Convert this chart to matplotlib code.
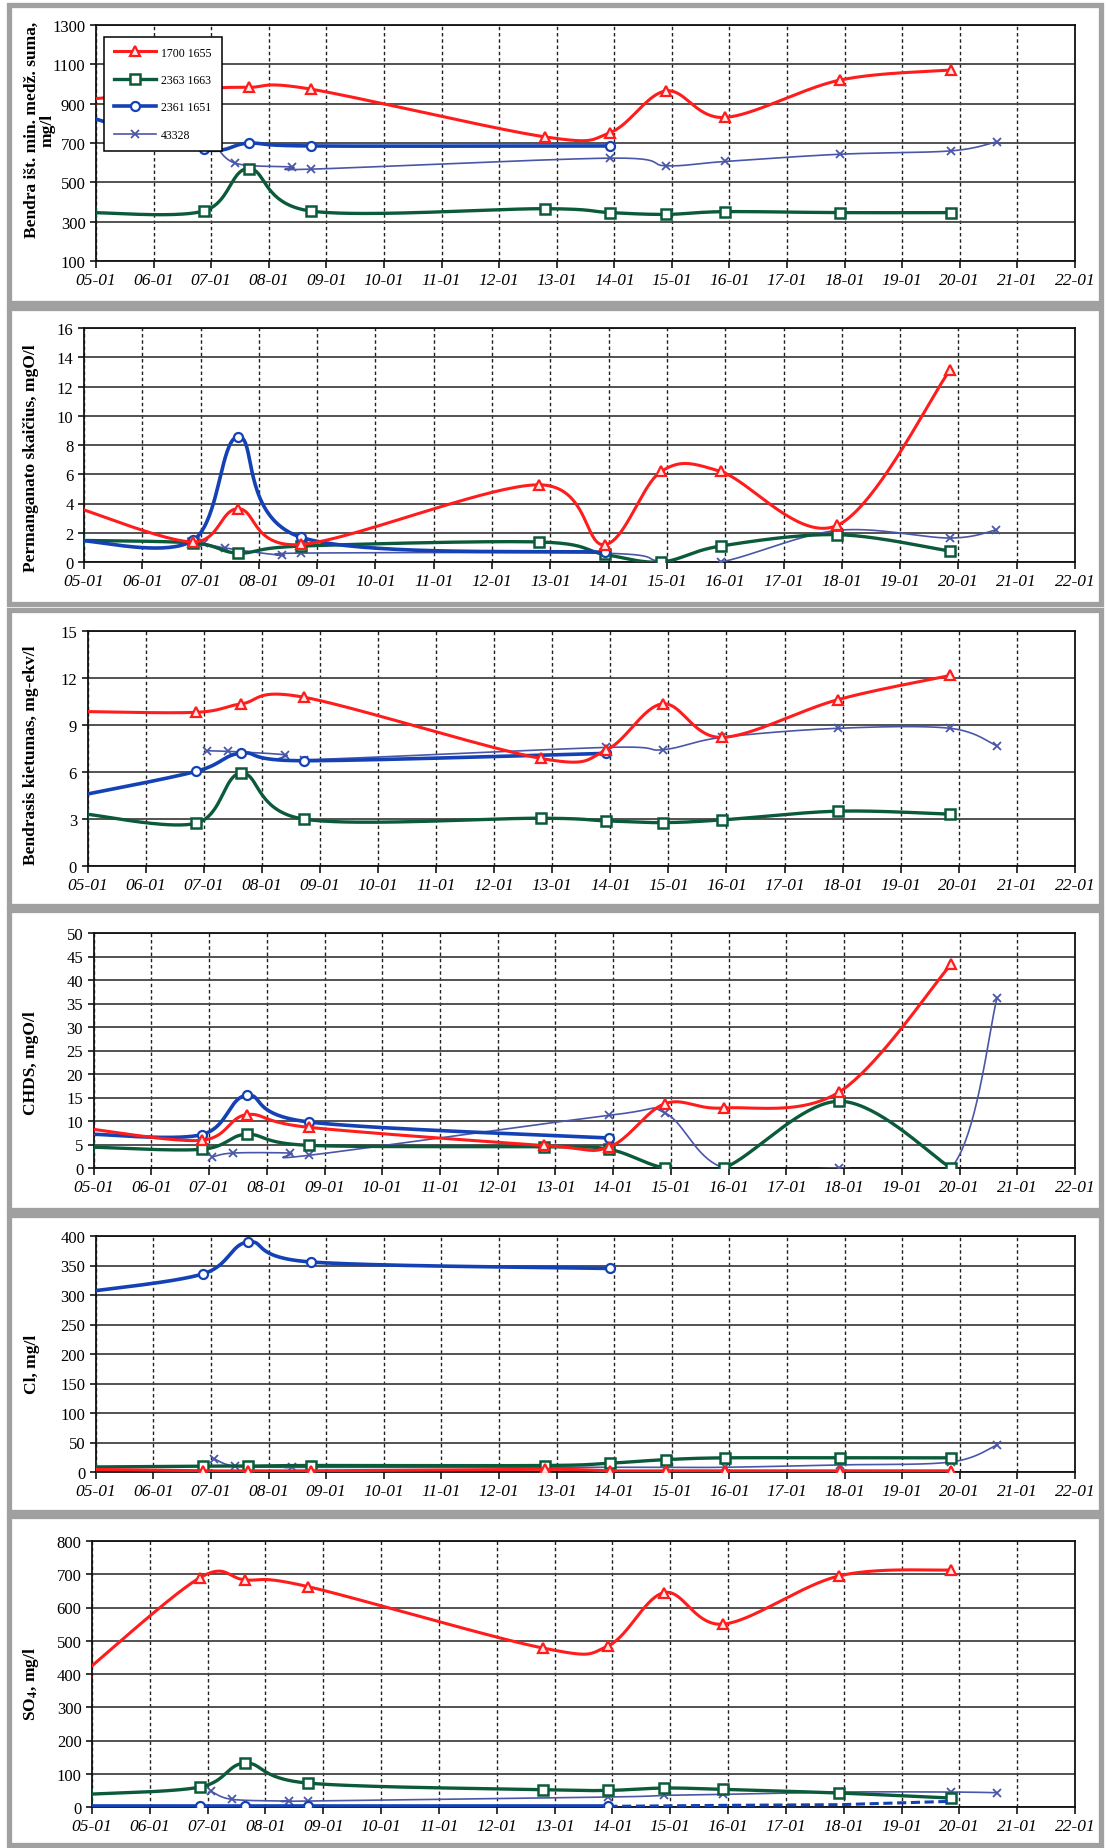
import numpy as np
import matplotlib
matplotlib.use("Agg")
import matplotlib.pyplot as plt
from matplotlib.patches import Rectangle

# ---------------- data ----------------
series_names = ["1700 1655", "2363 1663", "2361 1651", "43328"]
x_tick_years = list(range(2005, 2023))
x_tick_labels = ["%02d-01" % (y % 100) for y in x_tick_years]

dates_main = [2004.9, 2006.87, 2007.65, 2008.73, 2012.8, 2013.93, 2014.9, 2015.92, 2017.92, 2019.85]
dates_2361 = [2004.9, 2006.87, 2007.65, 2008.73, 2013.93]
dates_43328 = [2007.05, 2007.42, 2008.4, 2008.73, 2013.93, 2014.9, 2015.92, 2017.92, 2019.85, 2020.65]
dates_2361_so4_dash = [2013.93, 2015.92, 2017.92, 2019.85]

# Panel 1: Bendra išt. min. medž. suma, mg/l
p1_1700 = [923, 975, 983, 974, 731, 753, 965, 830, 1020, 1071]
p1_2363 = [346, 354, 570, 354, 366, 346, 337, 351, 346, 346]
p1_2361 = [830, 668, 699, 685, 685]
p1_43328 = [700, 597, 578, 567, 623, 584, 606, 643, 660, 707]

# Panel 2: Permanganato skaičius, mgO/l
p2_1700 = [3.69, 1.37, 3.64, 1.2, 5.28, 1.18, 6.19, 6.19, 2.5, 13.1]
p2_2363 = [1.48, 1.3, 0.61, 1.09, 1.37, 0.52, 0.0, 1.09, 1.87, 0.75]
p2_2361 = [1.48, 1.48, 8.58, 1.68, 0.66]
p2_43328 = [1.3, 0.96, 0.46, 0.61, 0.6, 0.05, 0.0, 2.16, 1.64, 2.2]

# Panel 3: Bendrasis kietumas, mg-ekv/l
p3_1700 = [9.86, 9.81, 10.35, 10.77, 6.87, 7.4, 10.35, 8.21, 10.62, 12.16]
p3_2363 = [3.35, 2.73, 5.93, 2.99, 3.05, 2.88, 2.77, 2.94, 3.5, 3.31]
p3_2361 = [4.52, 6.04, 7.21, 6.72, 7.19]
p3_43328 = [7.36, 7.32, 7.1, 6.78, 7.57, 7.42, 8.21, 8.79, 8.79, 7.68]

# Panel 4: CHDS, mgO/l
p4_1700 = [8.37, 5.89, 11.35, 8.65, 4.8, 4.47, 13.7, 12.77, 16.2, 43.3]
p4_2363 = [4.47, 3.97, 7.16, 4.82, 4.5, 3.97, 0.0, 0.0, 14.2, 0.0]
p4_2361 = [7.23, 7.09, 15.46, 9.79, 6.38]
p4_43328 = [2.34, 3.19, 3.19, 2.7, 11.2, 11.7, 0.0, 0.0, 0.0, 36.2]

# Panel 5: Cl, mg/l
p5_1700 = [4.5, 2, 2, 2, 4.5, 2, 2, 2, 2, 2]
p5_2363 = [8.5, 10, 10, 11, 11, 15, 21, 24, 24, 24]
p5_2361 = [306, 336, 390, 356, 345]
p5_43328 = [22.6, 10, 8, 8, 8, 8, 8, 12, 17, 46]

# Panel 6: SO4, mg/l
p6_1700 = [410, 690, 683, 663, 478, 485, 645, 550, 695, 713]
p6_2363 = [38, 60, 132, 72, 52, 50, 57, 53, 42, 27]
p6_2361 = [2, 2, 2, 2, 2]
p6_2361_dash = [2, 5, 7, 17]
p6_43328 = [48, 23, 18, 18, 30, 35, 38, 45, 45, 43]

# ---------------- styling ----------------
W, H = 1107, 1849
plt.rcParams["font.family"] = ["Liberation Serif", "DejaVu Serif"]
plt.rcParams["mathtext.fontset"] = "stix"

fig = plt.figure(figsize=(W / 100, H / 100), dpi=100)
fig.patch.set_facecolor("white")

C_RED = "#ff1c1c"
C_GREEN = "#0b5a3a"
C_BLUE = "#1442b4"
C_PURPLE = "#4a56a8"

styles = {
    "1700": dict(color=C_RED, lw=2.2, marker="^", ms=7.5, mfc="#ffe8e8", mec=C_RED, mew=1.6, zorder=6),
    "2363": dict(color=C_GREEN, lw=2.4, marker="s", ms=7.5, mfc="white", mec=C_GREEN, mew=1.8, zorder=4),
    "2361": dict(color=C_BLUE, lw=2.6, marker="o", ms=6.5, mfc="white", mec=C_BLUE, mew=1.6, zorder=5),
    "43328": dict(color=C_PURPLE, lw=1.2, marker="x", ms=6, mfc=C_PURPLE, mec=C_PURPLE, mew=1.3, zorder=3),
}


def smooth(xs, ys, n=40):
    P = np.column_stack([xs, ys]).astype(float)
    m = len(P)
    if m < 3:
        return P[:, 0], P[:, 1]
    out = [P[0]]
    t = np.linspace(0, 1, n)[1:, None]
    for i in range(m - 1):
        p0 = P[i - 1] if i > 0 else P[i]
        p1 = P[i]
        p2 = P[i + 1]
        p3 = P[i + 2] if i + 2 < m else P[i + 1]
        c1 = p1 + (p2 - p0) / 6.0
        c2 = p2 - (p3 - p1) / 6.0
        seg = ((1 - t) ** 3) * p1 + 3 * ((1 - t) ** 2) * t * c1 + 3 * (1 - t) * t ** 2 * c2 + t ** 3 * p2
        out.extend(seg)
    out = np.array(out)
    return out[:, 0], out[:, 1]


def draw_series(ax, xs, ys, key):
    st = styles[key]
    sx, sy = smooth(xs, ys)
    ax.plot(sx, sy, color=st["color"], lw=st["lw"], zorder=st["zorder"],
            solid_capstyle="round")
    ax.plot(xs, ys, ls="none", marker=st["marker"], ms=st["ms"], mfc=st["mfc"],
            mec=st["mec"], mew=st["mew"], zorder=st["zorder"] + 0.5)


def px_rect(left, right, top, bottom):
    return [left / W, 1 - bottom / H, (right - left) / W, (bottom - top) / H]


# panel frames (gray scan borders)
boxes = [(9, 6, 1101, 304), (9, 309, 1101, 605), (9, 611, 1101, 907),
         (9, 911, 1101, 1211), (9, 1216, 1101, 1513), (9, 1517, 1101, 1846)]
for (l, t, r, b) in boxes:
    fig.patches.append(Rectangle((l / W, 1 - b / H), (r - l) / W, (b - t) / H,
                                 transform=fig.transFigure, fill=False,
                                 edgecolor="#a0a0a0", lw=3.8, zorder=0))

panels = [
    dict(rect=(96, 1075, 26, 262), ylim=(100, 1300), yticks=np.arange(100, 1301, 200),
         ylabel="Bendra išt. min. medž. suma,\nmg/l", lab=(40, 130),
         data=(p1_1700, p1_2363, p1_2361, p1_43328)),
    dict(rect=(84, 1075, 329, 563), ylim=(0, 16), yticks=np.arange(0, 17, 2),
         ylabel="Permanganato skaičius, mgO/l", lab=(31, 458),
         data=(p2_1700, p2_2363, p2_2361, p2_43328)),
    dict(rect=(87.5, 1075, 632, 867), ylim=(0, 15), yticks=np.arange(0, 16, 3),
         ylabel="Bendrasis kietumas, mg-ekv/l", lab=(31, 755),
         data=(p3_1700, p3_2363, p3_2361, p3_43328)),
    dict(rect=(93.6, 1075, 934, 1169), ylim=(0, 50), yticks=np.arange(0, 51, 5),
         ylabel="CHDS, mgO/l", lab=(31, 1063),
         data=(p4_1700, p4_2363, p4_2361, p4_43328)),
    dict(rect=(95.7, 1075, 1237, 1473), ylim=(0, 400), yticks=np.arange(0, 401, 50),
         ylabel="Cl, mg/l", lab=(32, 1364),
         data=(p5_1700, p5_2363, p5_2361, p5_43328)),
    dict(rect=(92, 1075, 1542, 1808), ylim=(0, 800), yticks=np.arange(0, 801, 100),
         ylabel="SO$_\\mathbf{4}$, mg/l", lab=(31, 1684),
         data=(p6_1700, p6_2363, p6_2361, p6_43328)),
]

for i, p in enumerate(panels):
    l, r, t, b = p["rect"]
    ax = fig.add_axes(px_rect(l, r, t, b))
    ax.set_facecolor("white")
    ax.set_xlim(2005, 2022)
    ax.set_ylim(*p["ylim"])
    ax.set_xticks(x_tick_years)
    ax.set_xticklabels(x_tick_labels, fontstyle="italic", fontsize=12.5)
    ax.set_yticks(p["yticks"])
    ax.set_yticklabels([str(int(v)) for v in p["yticks"]], fontsize=12)
    ax.tick_params(axis="x", direction="out", length=5, width=1.1, pad=3, color="black")
    ax.tick_params(axis="y", direction="out", length=4, width=1.1, pad=3.5, color="black")
    for s in ax.spines.values():
        s.set_linewidth(1.3)
        s.set_color("#111111")
    ax.grid(axis="y", color="#444444", lw=1.3, ls="-")
    ax.grid(axis="x", color="#202020", lw=1.0, ls=(0, (2.5, 2.0)))
    ax.set_axisbelow(True)

    d1700, d2363, d2361, d43328 = p["data"]
    draw_series(ax, dates_43328, d43328, "43328")
    draw_series(ax, dates_main, d2363, "2363")
    draw_series(ax, dates_2361, d2361, "2361")
    draw_series(ax, dates_main, d1700, "1700")
    if i == 5:
        ax.plot(dates_2361_so4_dash, p6_2361_dash, color=C_BLUE, lw=2.2,
                ls=(0, (3, 1.5)), zorder=5)

    if i == 0:
        for key, name in zip(["1700", "2363", "2361", "43328"], series_names):
            st = styles[key]
            ax.plot([], [], color=st["color"], lw=st["lw"], marker=st["marker"], ms=st["ms"],
                    mfc=st["mfc"], mec=st["mec"], mew=st["mew"], label=name)
        leg = ax.legend(loc="upper left", bbox_to_anchor=(0.008, 0.951), fontsize=8.5,
                        numpoints=1, handlelength=3.6, handletextpad=0.4,
                        labelspacing=1.3, borderpad=0.85, borderaxespad=0.0,
                        fancybox=False, framealpha=1.0, edgecolor="black")
        leg.get_frame().set_linewidth(1.1)
        leg.set_zorder(20)

    fig.text(p["lab"][0] / W, 1 - p["lab"][1] / H, p["ylabel"], rotation=90,
             ha="center", va="center", fontsize=12.5, fontweight="bold",
             linespacing=1.0)

fig.savefig("out.png", dpi=100, facecolor="white")
